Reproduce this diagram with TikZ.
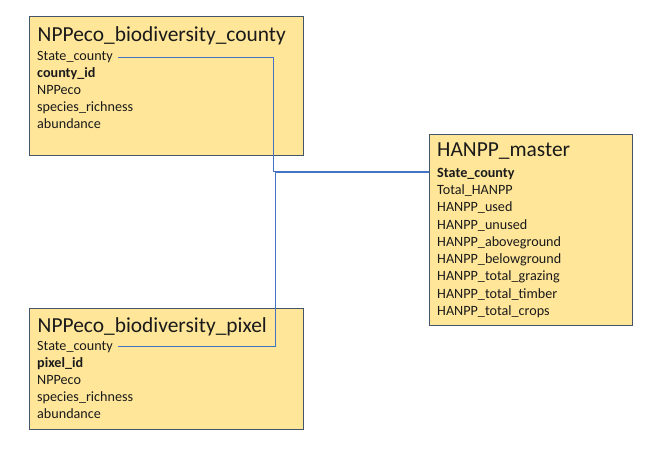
\documentclass[tikz,border=0pt]{standalone}
\usepackage{fontspec}
\setmainfont{Carlito}
\definecolor{boxfill}{HTML}{FFE699}
\definecolor{boxline}{HTML}{44546A}
\definecolor{conn}{HTML}{4472C4}
\definecolor{textc}{HTML}{1A1A1A}
\begin{document}
\begin{tikzpicture}[x=1bp,y=-1bp,
  tbl/.style={draw=boxline, fill=boxfill, line width=0.9bp, inner sep=0pt, anchor=north west},
  ttl/.style={anchor=base west, font=\fontsize{21.5}{24}\selectfont, inner sep=0pt, text=textc},
  fld/.style={anchor=base west, font=\fontsize{14.2}{17}\selectfont, inner xsep=5bp, inner ysep=0pt, text=textc},
  key/.style={fld, font=\fontsize{14.2}{17}\selectfont\bfseries},
  link/.style={draw=conn, line width=1bp}]
\useasboundingbox (0,0) rectangle (657,450);

% Table 1
\node[tbl, minimum width=274bp, minimum height=139bp] (county) at (28.5,16) {};
\node[ttl] (ct) at (37.5,42) {NPPeco\_biodiversity\_county};
\node[fld] (csc) at (32,61) {State\_county};
\node[key] (cid) at (32,78) {county\_id};
\node[fld] (cnpp) at (32,95) {NPPeco};
\node[fld] (csr) at (32,112) {species\_richness};
\node[fld] (cab) at (32,129) {abundance};

% Table 2
\node[tbl, minimum width=274bp, minimum height=121bp] (pixel) at (28.5,307.5) {};
\node[ttl] (pt) at (37.5,332.5) {NPPeco\_biodiversity\_pixel};
\node[fld] (psc) at (32,350) {State\_county};
\node[key] (pid) at (32,367.2) {pixel\_id};
\node[fld] (pnpp) at (32,384.4) {NPPeco};
\node[fld] (psr) at (32,401.6) {species\_richness};
\node[fld] (pab) at (32,418.8) {abundance};

% Table 3
\node[tbl, minimum width=203bp, minimum height=191bp] (hm) at (429,134.3) {};
\node[ttl] (ht) at (437,157) {HANPP\_master};
\node[key] (hsc) at (432,177.3) {State\_county};
\node[fld] (h1) at (432,194.55) {Total\_HANPP};
\node[fld] (h2) at (432,211.8) {HANPP\_used};
\node[fld] (h3) at (432,229.05) {HANPP\_unused};
\node[fld] (h4) at (432,246.3) {HANPP\_aboveground};
\node[fld] (h5) at (432,263.55) {HANPP\_belowground};
\node[fld] (h6) at (432,280.8) {HANPP\_total\_grazing};
\node[fld] (h7) at (432,298.05) {HANPP\_total\_timber};
\node[fld] (h8) at (432,315.3) {HANPP\_total\_crops};

% Connectors
\coordinate (j1) at (273.5,171.4);
\coordinate (j2) at (275,172.6);
\draw[link] (csc.east) -| (j1) -- (j1 -| hm.west);
\draw[link] (psc.east) -| (j2) -- (j2 -| hm.west);
\end{tikzpicture}
\end{document}
